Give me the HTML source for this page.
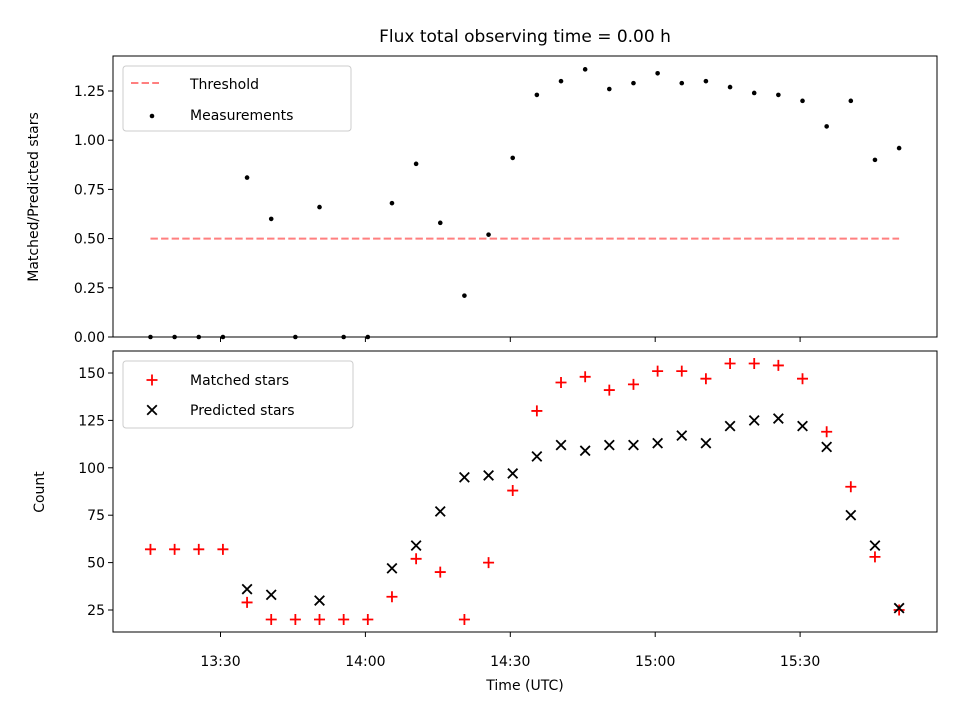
<!DOCTYPE html>
<html><head><meta charset="utf-8"><style>
body{margin:0;background:#fff}
svg text{font-family:"DejaVu Sans","Liberation Sans",sans-serif;fill:#000}
</style></head><body>
<svg id="c" width="960" height="720" xmlns="http://www.w3.org/2000/svg"></svg>
<script>
const startMin = 13*60+15.5;
const stepMin = 5;
const ratios = [0,0,0,0,0.81,0.60,0,0.66,0,0,0.68,0.88,0.58,0.21,0.52,0.91,1.23,1.30,1.36,1.26,1.29,1.34,1.29,1.30,1.27,1.24,1.23,1.20,1.07,1.20,0.90,0.96];
const matched = [57,57,57,57,29,20,20,20,20,20,32,52,45,20,50,88,130,145,148,141,144,151,151,147,155,155,154,147,119,90,53,25];
const predicted = [null,null,null,null,36,33,null,30,null,null,47,59,77,95,96,97,106,112,109,112,112,113,117,113,122,125,126,122,111,75,59,26];
const threshold = 0.5;
const xTickMin = [13*60+30,14*60,14*60+30,15*60,15*60+30];
const xTickLabels = ["13:30","14:00","14:30","15:00","15:30"];
const topTicks = [0,0.25,0.5,0.75,1.0,1.25];
const botTicks = [25,50,75,100,125,150];

const NS="http://www.w3.org/2000/svg", svg=document.getElementById('c');
function el(tag,a,parent){const e=document.createElementNS(NS,tag);for(const k in a)e.setAttribute(k,a[k]);(parent||svg).appendChild(e);return e;}
const L=113,R=937;
const xs=m=>220.5+(m-(13*60+30))*(144.9/30);
const yTop=v=>337-v*196.8;
const yBot=v=>610-(v-25)*(47.4/25);
const tmin=i=>startMin+i*stepMin;

function frame(y0,y1,name){
  const r=el('rect',{x:L,y:y0,width:R-L,height:y1-y0,fill:'none',stroke:'#000','stroke-width':1});
  
  xTickMin.forEach(m=>{el('line',{x1:xs(m),x2:xs(m),y1:y1,y2:y1+5,stroke:'#000'});});
}
let t=el('text',{x:525,y:42,'text-anchor':'middle','font-size':'17'});t.textContent='Flux total observing time = 0.00 h';

frame(56,337,'top-axes');
topTicks.forEach(v=>{const y=yTop(v);el('line',{x1:L-5,x2:L,y1:y,y2:y,stroke:'#000'});
  const tx=el('text',{x:L-8,y:y+5,'text-anchor':'end','font-size':'14'});tx.textContent=v.toFixed(2);});
t=el('text',{x:38,y:197,'text-anchor':'middle','font-size':'14',transform:'rotate(-90 38 197)'});t.textContent='Matched/Predicted stars';

let th=el('line',{x1:xs(tmin(0)),x2:xs(tmin(ratios.length-1)),y1:yTop(threshold),y2:yTop(threshold),stroke:'#ff7f7f','stroke-width':2,'stroke-dasharray':'7.4,3.2'});

ratios.forEach((v,i)=>{const c=el('circle',{cx:xs(tmin(i)),cy:yTop(v),r:2.3,fill:'#000'});
  });
let lg=el('g',{});
el('rect',{x:123,y:66,width:228,height:65,rx:3,fill:'#fff',stroke:'#ccc'},lg);
el('line',{x1:131,x2:159,y1:83,y2:83,stroke:'#ff7f7f','stroke-width':2,'stroke-dasharray':'7.4,3.2'},lg);
t=el('text',{x:190,y:89,'font-size':'14'},lg);t.textContent='Threshold';
el('circle',{cx:152,cy:116,r:2.3,fill:'#000'},lg);
t=el('text',{x:190,y:120,'font-size':'14'},lg);t.textContent='Measurements';

frame(351,632,'bottom-axes');
botTicks.forEach(v=>{const y=yBot(v);el('line',{x1:L-5,x2:L,y1:y,y2:y,stroke:'#000'});
  const tx=el('text',{x:L-8,y:y+5,'text-anchor':'end','font-size':'14'});tx.textContent=v;});
xTickMin.forEach((m,i)=>{const tx=el('text',{x:xs(m),y:666,'text-anchor':'middle','font-size':'14'});tx.textContent=xTickLabels[i];
  });
t=el('text',{x:525,y:690,'text-anchor':'middle','font-size':'14'});t.textContent='Time (UTC)';

t=el('text',{x:44,y:492,'text-anchor':'middle','font-size':'14',transform:'rotate(-90 44 492)'});t.textContent='Count';

function plus(x,y,p){el('path',{d:`M${x-5.5} ${y}H${x+5.5}M${x} ${y-5.5}V${y+5.5}`,stroke:'#f00','stroke-width':1.8},p);}
function cross(x,y,p){el('path',{d:`M${x-4.8} ${y-4.8}L${x+4.8} ${y+4.8}M${x-4.8} ${y+4.8}L${x+4.8} ${y-4.8}`,stroke:'#000','stroke-width':1.8},p);}
const cp=el('clipPath',{id:'cp'});el('rect',{x:L,y:351,width:R-L,height:281},cp);
let gm=el('g',{'clip-path':'url(#cp)'});

matched.forEach((v,i)=>plus(xs(tmin(i)),yBot(v),gm));
let gp=el('g',{'clip-path':'url(#cp)'});

predicted.forEach((v,i)=>{if(v!==null)cross(xs(tmin(i)),yBot(v),gp);});
lg=el('g',{});
el('rect',{x:123,y:361,width:230,height:67,rx:3,fill:'#fff',stroke:'#ccc'},lg);
plus(152,380,lg);t=el('text',{x:190,y:385,'font-size':'14'},lg);t.textContent='Matched stars';
cross(152,410,lg);t=el('text',{x:190,y:415,'font-size':'14'},lg);t.textContent='Predicted stars';
</script>
</body></html>
